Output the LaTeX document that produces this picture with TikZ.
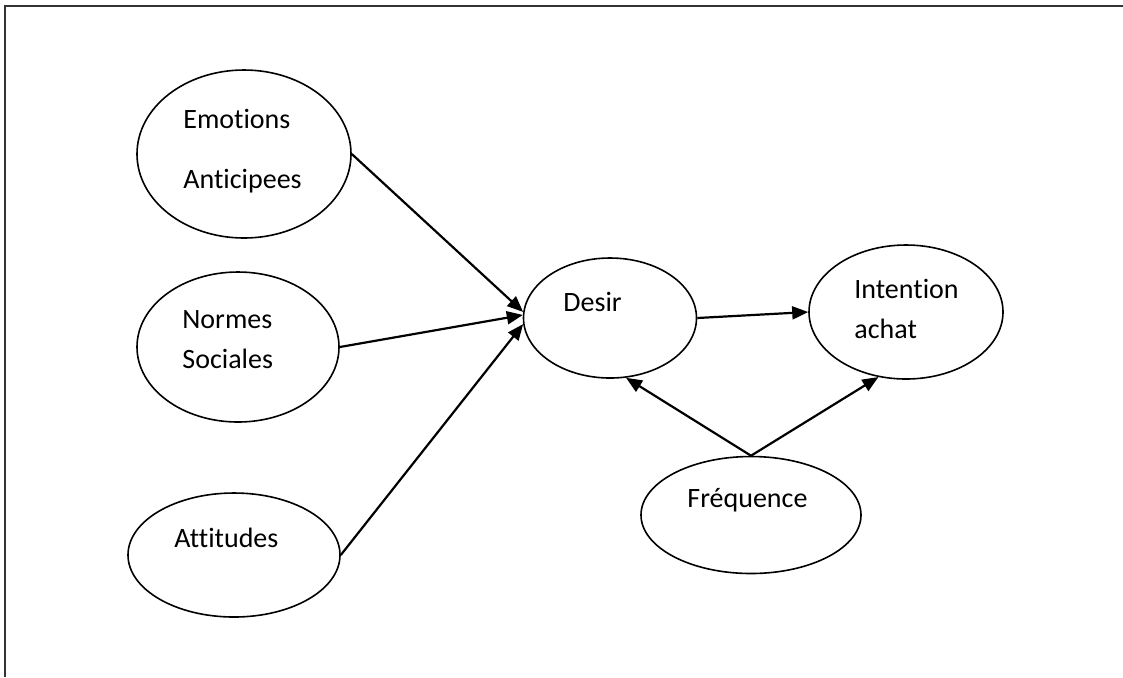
\documentclass[tikz,border=0pt]{standalone}
\usepackage{fontspec}
\setmainfont{Carlito}[Ligatures=CommonOff]
\usepackage{tikz}
\usetikzlibrary{positioning,shapes.geometric,arrows.meta,calc}

\begin{document}
\begin{tikzpicture}[x=0.5pt,y=-0.5pt,
    var/.style={ellipse,draw,line width=0.8pt,inner sep=0pt},
    lbl/.style={anchor=base west,inner sep=0pt,font=\fontsize{14}{17}\selectfont},
    fleche/.style={line width=1.1pt,-{Triangle[length=8pt,width=6.5pt]}}]
            \useasboundingbox (0,0) rectangle (1123,677);
            \draw[line width=1pt, color=black!80] (1123,6) -- (5,6) -- (5,677);
            % ellipses
            \node[var, minimum width=107pt, minimum height=84pt] (emo) at (244,154) {};
            \node[var, minimum width=101pt, minimum height=75pt] (normes) at (238,347) {};
            \node[var, minimum width=106pt, minimum height=62pt] (att) at (234,555) {};
            \node[var, minimum width=86.5pt, minimum height=60pt] (desir) at (610,318) {};
            \node[var, minimum width=97pt, minimum height=67pt] (intent) at (906,312) {};
            \node[var, minimum width=110pt, minimum height=58.5pt] (freq) at (751,515) {};
            % texts
            \node[lbl] (emo-1) at (183,128) {Emotions};
            \node[lbl] (emo-2) at (183,188) {Anticipees};
            \node[lbl] (normes-1) at (182,328) {Normes};
            \node[lbl] (normes-2) at (182,368) {Sociales};
            \node[lbl] (att-1) at (174,547) {Attitudes};
            \node[lbl] (desir-1) at (563,311) {Desir};
            \node[lbl] (intent-1) at (854,298) {Intention};
            \node[lbl] (intent-2) at (854,338) {achat};
            \node[lbl] (freq-1) at (687,507) {Fréquence};
            % arrows
            \draw[fleche] (emo.east) -- (desir.176);
            \draw[fleche] (normes.east) -- (desir.178);
            \draw[fleche] (att.east) -- (desir.184);
            \draw[fleche] (desir.east) -- (intent.west);
            \draw[fleche] (freq.north) -- (desir.285);
            \draw[fleche] (freq.north) -- (intent.247);
        \end{tikzpicture}
\end{document}
